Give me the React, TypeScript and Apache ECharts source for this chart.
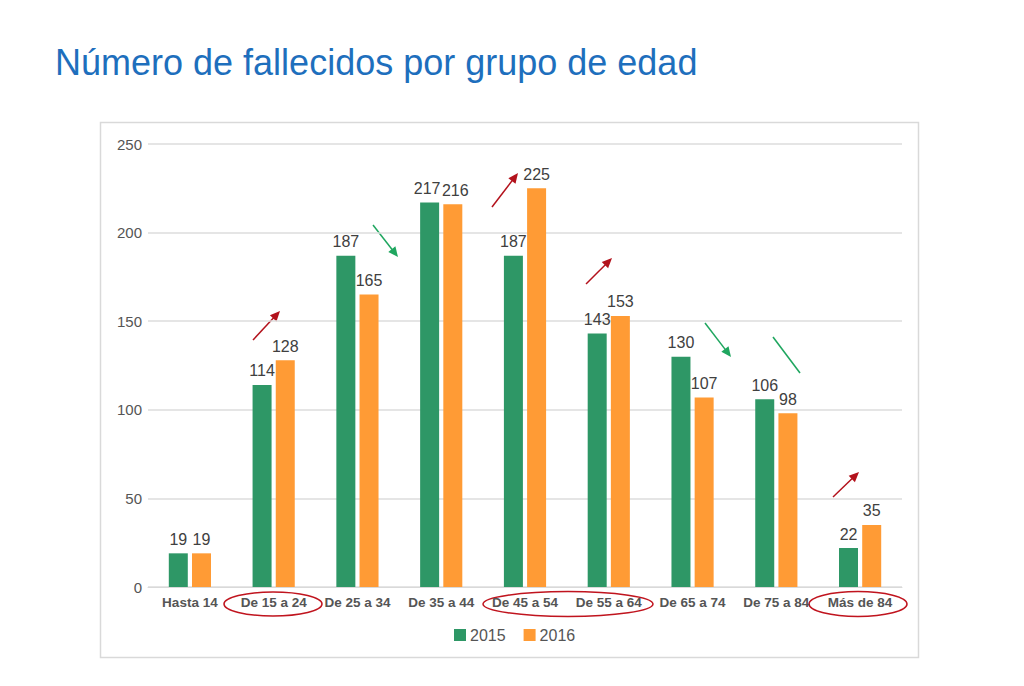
import React, { useEffect, useRef } from "react";
import * as echarts from "echarts";

const titleText = "Número de fallecidos por grupo de edad";
const categories = [
  "Hasta 14",
  "De 15 a 24",
  "De 25 a 34",
  "De 35 a 44",
  "De 45 a 54",
  "De 55 a 64",
  "De 65 a 74",
  "De 75 a 84",
  "Más de 84",
];
const values2015 = [19, 114, 187, 217, 187, 143, 130, 106, 22];
const values2016 = [19, 128, 165, 216, 225, 153, 107, 98, 35];
const seriesNames = ["2015", "2016"];

// annotation arrows: [x1, y1, x2, y2, color, hasHead]
const RED = "#B3121C";
const GREEN = "#1FA65F";
const arrows: [number, number, number, number, string, boolean][] = [
  [253, 340, 280, 311, RED, true],
  [373, 225, 398, 257, GREEN, true],
  [492, 207, 518, 173, RED, true],
  [586, 284, 612, 258, RED, true],
  [705, 323, 731, 357, GREEN, true],
  [773, 337, 800, 373, GREEN, false],
  [833, 497, 859, 472, RED, true],
];
// ellipses around axis labels: [cx, cy, rx, ry]
const ellipses: [number, number, number, number][] = [
  [273, 604, 49, 12],
  [568, 604, 85, 12.5],
  [858, 604, 49, 12.5],
];

function arrowGraphics() {
  const out: any[] = [];
  arrows.forEach(([x1, y1, x2, y2, color, head]) => {
    const dx = x2 - x1;
    const dy = y2 - y1;
    const len = Math.sqrt(dx * dx + dy * dy);
    const ux = dx / len;
    const uy = dy / len;
    const hl = head ? 10 : 0;
    const hw = 4.5;
    const bx = x2 - ux * hl;
    const by = y2 - uy * hl;
    out.push({
      type: "line",
      shape: { x1, y1, x2: head ? bx + ux * 2 : x2, y2: head ? by + uy * 2 : y2 },
      style: { stroke: color, lineWidth: 1.5 },
      silent: true,
    });
    if (head) {
      out.push({
        type: "polygon",
        shape: {
          points: [
            [x2, y2],
            [bx - uy * hw, by + ux * hw],
            [bx + uy * hw, by - ux * hw],
          ],
        },
        style: { fill: color },
        silent: true,
      });
    }
  });
  ellipses.forEach(([cx, cy, rx, ry]) => {
    out.push({
      type: "ellipse",
      shape: { cx, cy, rx, ry },
      style: { fill: "none", stroke: "#C0141E", lineWidth: 1.5 },
      silent: true,
    });
  });
  return out;
}

// nudge the two touching labels of "De 35 a 44" apart a little
function withNudge(values: number[], dx: number) {
  return values.map((v, i) =>
    i === 3 ? { value: v, label: { offset: [dx, 0] } } : v
  );
}

export default function App() {
  const ref = useRef<HTMLDivElement>(null);
  useEffect(() => {
    if (!ref.current) return;
    const chart = echarts.init(ref.current, undefined, { renderer: "svg" });
    const labelStyle = {
      show: true,
      position: "top",
      distance: 6,
      color: "#404040",
      fontSize: 16,
      fontFamily: "Liberation Sans, Arial, sans-serif",
    };
    chart.setOption({
      animation: false,
      backgroundColor: "#ffffff",
      textStyle: { fontFamily: "Liberation Sans, Arial, sans-serif" },
      title: {
        text: titleText,
        left: 55,
        top: 44,
        padding: 0,
        textStyle: {
          color: "#1E6FBD",
          fontSize: 36,
          fontWeight: "normal",
          fontFamily: "Liberation Sans, Arial, sans-serif",
        },
      },
      legend: {
        data: seriesNames,
        left: 454,
        top: 627,
        itemWidth: 12,
        itemHeight: 12,
        itemGap: 18,
        icon: "rect",
        padding: 0,
        textStyle: {
          color: "#555555",
          fontSize: 16,
          padding: [0, 0, 0, -1],
        },
      },
      grid: { left: 148, right: 122, top: 144, bottom: 99, containLabel: false },
      xAxis: {
        type: "category",
        data: categories,
        axisLine: { show: true, lineStyle: { color: "#d9d9d9", width: 1 } },
        axisTick: { show: false },
        axisLabel: {
          color: "#555555",
          fontSize: 13.5,
          fontWeight: "bold",
          margin: 8,
          interval: 0,
        },
      },
      yAxis: {
        type: "value",
        min: 0,
        max: 250,
        interval: 50,
        axisLine: { show: false },
        axisTick: { show: false },
        splitLine: { lineStyle: { color: "#dcdcdc", width: 1.5 } },
        axisLabel: { color: "#555555", fontSize: 15, margin: 6 },
      },
      series: [
        {
          name: seriesNames[0],
          type: "bar",
          data: withNudge(values2015, -2.5),
          barWidth: 19,
          barGap: "22%",
          itemStyle: { color: "#2E9766" },
          label: labelStyle,
        },
        {
          name: seriesNames[1],
          type: "bar",
          data: withNudge(values2016, 2.5),
          barWidth: 19,
          barGap: "22%",
          itemStyle: { color: "#FF9B35" },
          label: labelStyle,
        },
      ],
      graphic: [
        {
          type: "rect",
          shape: { x: 100.5, y: 122.5, width: 818, height: 535 },
          style: { fill: "none", stroke: "#d9d9d9", lineWidth: 1.5 },
          silent: true,
          z: -1,
        },
        ...arrowGraphics(),
      ],
    });
    return () => chart.dispose();
  }, []);
  return (
    <div
      ref={ref}
      style={{ position: "fixed", left: 0, top: 0, width: 1024, height: 686 }}
    />
  );
}
